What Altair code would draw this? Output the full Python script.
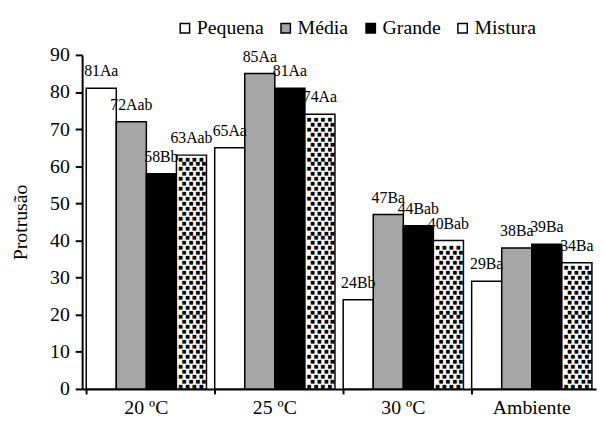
import altair as alt
import pandas as pd
import numpy as np

categorias = ["20 ºC", "25 ºC", "30 ºC", "Ambiente"]
series = ["Pequena", "Média", "Grande", "Mistura"]
pequena = [81, 65, 24, 29]
media = [72, 85, 47, 38]
grande = [58, 81, 44, 39]
mistura = [63, 74, 40, 34]
rot_pequena = ["81Aa", "65Aa", "24Bb", "29Ba"]
rot_media = ["72Aab", "85Aa", "47Ba", "38Ba"]
rot_grande = ["58Bb", "81Aa", "44Bab", "39Ba"]
rot_mistura = ["63Aab", "74Aa", "40Bab", "34Ba"]
cores = ["#ffffff", "#a6a6a6", "#000000", "#ffffff"]

FONT = "Liberation Serif"

valores = [pequena, media, grande, mistura]
rotulos = [rot_pequena, rot_media, rot_grande, rot_mistura]
rows = []
for s, vals, rots in zip(series, valores, rotulos):
    for c, v, r in zip(categorias, vals, rots):
        rows.append({"categoria": c, "serie": s, "valor": v, "rotulo": r})
df = pd.DataFrame(rows)

# dotted texture inside the "Mistura" bars
passo = 1.33
pts = []
for c, v in zip(categorias, mistura):
    for i, yv in enumerate(np.arange(0.9, v - 0.6, passo)):
        pts.append({"categoria": c, "serie": "Mistura", "valor": float(yv), "par": i % 2})
pontos = pd.DataFrame(pts)
deslocamentos = {0: [-11, -4, 3, 10], 1: [-7.5, -0.5, 6.5, 12.5]}

xscale = alt.Scale(type="band", domain=categorias, paddingInner=0.064, paddingOuter=0.032)
oscale = alt.Scale(domain=series, paddingInner=0, paddingOuter=0)
yscale = alt.Scale(domain=[0, 90], nice=False)

yaxis = alt.Axis(
    title="Protrusão", values=list(range(0, 91, 10)), grid=False,
    labelFont=FONT, labelFontSize=20, labelColor="black", labelPadding=6,
    tickSize=7, tickWidth=2, tickColor="black",
    domainWidth=2, domainColor="black",
    titleFont=FONT, titleFontSize=20, titleFontWeight="normal", titleColor="black",
    titlePadding=19,
)
xaxis_labels = alt.Axis(
    title=None, orient="bottom", labelAngle=0, labelFont=FONT, labelFontSize=20,
    labelFontWeight="normal", labelColor="black", labelPadding=9, ticks=False,
    domainWidth=2, domainColor="black",
)
xaxis_ticks = alt.Axis(
    title=None, orient="bottom", labels=False, ticks=True, tickSize=5, tickWidth=2,
    tickColor="black", bandPosition=0, domain=False,
)

bars = alt.Chart(df).mark_bar(stroke="black", strokeWidth=1.5).encode(
    x=alt.X("categoria:N", scale=xscale, sort=categorias, axis=xaxis_labels),
    xOffset=alt.XOffset("serie:N", scale=oscale, sort=series),
    y=alt.Y("valor:Q", scale=yscale, axis=yaxis),
    fill=alt.Fill(
        "serie:N", sort=series, scale=alt.Scale(domain=series, range=cores),
        legend=alt.Legend(
            title=None, orient="none", legendX=94, legendY=-37, direction="horizontal",
            symbolType="square", symbolSize=90, symbolStrokeColor="black",
            symbolStrokeWidth=1.5, labelFont=FONT, labelFontSize=20, labelColor="black",
            labelOffset=2, columnPadding=12, padding=0,
        ),
    ),
)

dot_layers = []
first = True
for par, dxs in deslocamentos.items():
    sub = pontos[pontos["par"] == par]
    for d in dxs:
        dot_layers.append(
            alt.Chart(sub).mark_text(
                text="■", font="DejaVu Sans", fontSize=5, color="black",
                baseline="middle", align="center", dx=d,
            ).encode(
                x=alt.X("categoria:N", scale=xscale, sort=categorias,
                        axis=xaxis_ticks if first else None),
                xOffset=alt.XOffset("serie:N", scale=oscale, sort=series),
                y=alt.Y("valor:Q", scale=yscale, axis=yaxis),
            )
        )
        first = False

texts = alt.Chart(df).mark_text(
    font=FONT, fontSize=16, color="black", align="center", baseline="alphabetic", dy=-12
).encode(
    x=alt.X("categoria:N", scale=xscale, sort=categorias, axis=None),
    xOffset=alt.XOffset("serie:N", scale=oscale, sort=series),
    y=alt.Y("valor:Q", scale=yscale, axis=yaxis),
    text="rotulo:N",
)

chart = alt.layer(bars, *dot_layers, texts).resolve_axis(x="independent").properties(
    width=520, height=338,
    autosize=alt.AutoSizeParams(type="none"),
    padding={"left": 75, "top": 45, "right": 2, "bottom": 32},
).configure(font=FONT).configure_view(stroke=None)

chart.save("out.html", embed_options={"renderer": "svg", "actions": False})
